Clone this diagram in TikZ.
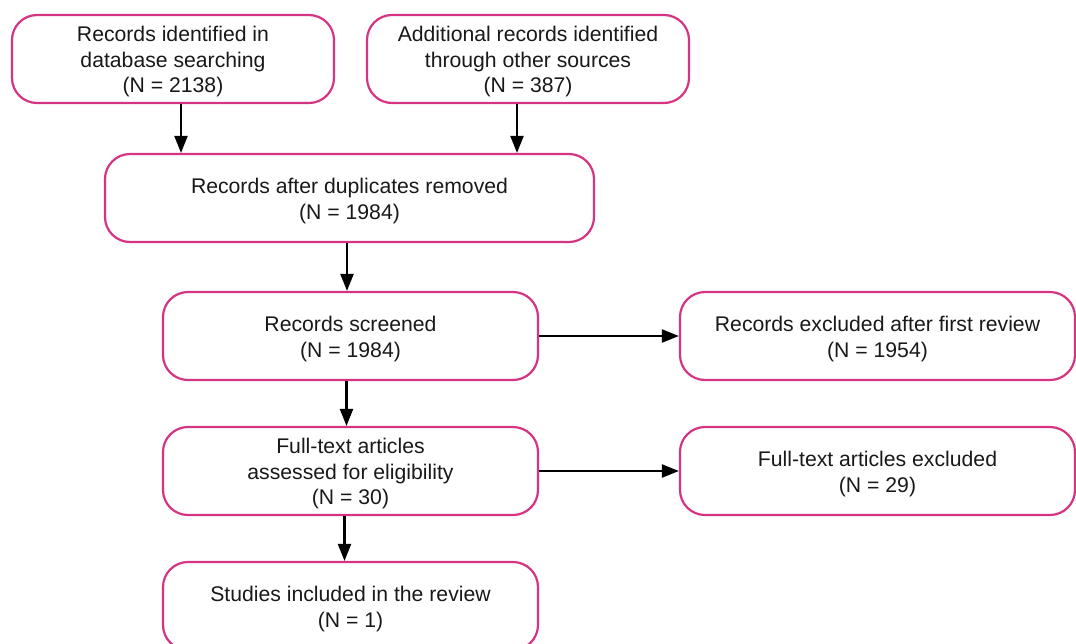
\documentclass[tikz,border=0pt]{standalone}
\usepackage{fontspec}
\setmainfont{Liberation Sans}
\usetikzlibrary{arrows.meta}
\definecolor{boxpink}{RGB}{212,52,130}
\definecolor{txt}{RGB}{25,25,25}
\tikzset{
  flowbox/.style={draw=boxpink, line width=2.2pt, rounded corners=25pt, fill=white,
    minimum height=88pt, inner sep=0pt},
  boxtext/.style={align=center, inner sep=0pt, text=txt, yshift=-3pt,
    font=\fontsize{21.2pt}{25.5pt}\selectfont},
  arr/.style={draw=black, line width=2.2pt, -{Triangle[length=17pt,width=13pt]}}
}
\begin{document}
\begin{tikzpicture}[x=1pt,y=-1pt]
\useasboundingbox (0,0) rectangle (1076,643);
\node[flowbox, minimum width=322pt, label={[boxtext]center:Records identified in\\database searching\\(N = 2138)}] (b1) at (173,59) {};
\node[flowbox, minimum width=322pt, label={[boxtext]center:Additional records identified\\through other sources\\(N = 387)}] (b2) at (528,59) {};
\node[flowbox, minimum width=489pt, label={[boxtext]center:Records after duplicates removed\\(N = 1984)}] (b3) at (349.5,198) {};
\node[flowbox, minimum width=375pt, label={[boxtext]center:Records screened\\(N = 1984)}] (b4) at (350.5,336) {};
\node[flowbox, minimum width=395pt, label={[boxtext]center:Records excluded after first review\\(N = 1954)}] (b5) at (877.5,336) {};
\node[flowbox, minimum width=375pt, label={[boxtext]center:Full-text articles\\assessed for eligibility\\(N = 30)}] (b6) at (350.5,471) {};
\node[flowbox, minimum width=395pt, label={[boxtext]center:Full-text articles excluded\\(N = 29)}] (b7) at (877.5,471) {};
\node[flowbox, minimum width=375pt, label={[boxtext]center:Studies included in the review\\(N = 1)}] (b8) at (350.5,606) {};
\draw[arr] ([xshift=8pt]b1.south) -- ([xshift=8pt]b1.south |- b3.north);
\draw[arr] ([xshift=-11pt]b2.south) -- ([xshift=-11pt]b2.south |- b3.north);
\draw[arr] ([xshift=-2.5pt]b3.south) -- ([xshift=-2.5pt]b3.south |- b4.north);
\draw[arr] ([xshift=-4pt]b4.south) -- ([xshift=-4pt]b4.south |- b6.north);
\draw[arr] ([xshift=-6pt]b6.south) -- ([xshift=-6pt]b6.south |- b8.north);
\draw[arr] (b4.east) -- (b5.west);
\draw[arr] (b6.east) -- (b7.west);
\end{tikzpicture}
\end{document}
